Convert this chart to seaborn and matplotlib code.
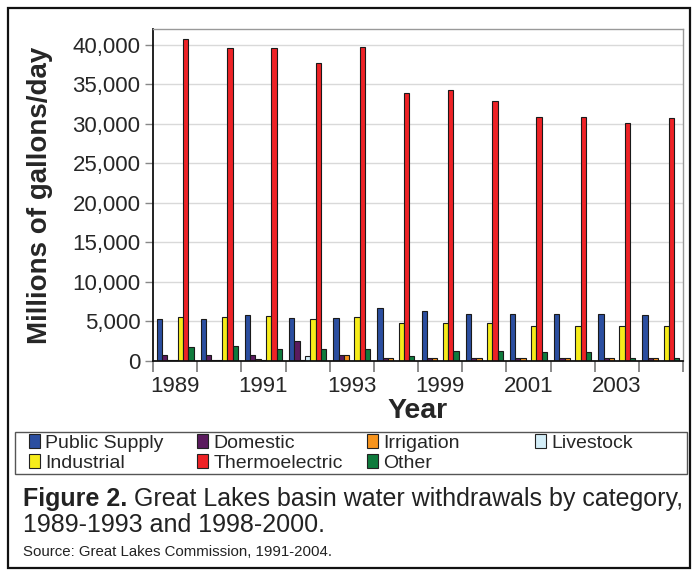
import numpy as np
import pandas as pd
import matplotlib
matplotlib.use("Agg")
import matplotlib.pyplot as plt
from matplotlib.patches import Patch, Rectangle
from matplotlib.ticker import FuncFormatter
import seaborn as sns

years = ["1989", "1990", "1991", "1992", "1993", "1998",
         "1999", "2000", "2001", "2002", "2003", "2004"]
shown_labels = ["1989", "1991", "1993", "1999", "2001", "2003"]
categories = ["Public Supply", "Domestic", "Irrigation", "Livestock",
              "Industrial", "Thermoelectric", "Other"]

public_supply = [5300, 5300, 5820, 5400, 5400, 6670, 6330, 5990, 5990, 5910, 5990, 5820]
domestic = [720, 700, 700, 2530, 720, 420, 420, 420, 420, 420, 420, 420]
irrigation = [100, 150, 250, 100, 720, 340, 340, 340, 340, 420, 420, 420]
livestock = [80, 80, 80, 630, 60, 50, 50, 50, 50, 50, 50, 50]
industrial = [5530, 5610, 5700, 5320, 5530, 4850, 4850, 4770, 4390, 4390, 4390, 4390]
thermoelectric = [40730, 39590, 39590, 37690, 39710, 33890, 34270, 32950, 30830, 30830, 30170, 30730]
other = [1730, 1900, 1560, 1560, 1560, 590, 1310, 1220, 1140, 1140, 420, 420]

colors = ["#2b4ea0", "#5b1b5e", "#f7941d", "#d4eef8", "#f6ec1a", "#ee2226", "#0f7b3d"]

series = [public_supply, domestic, irrigation, livestock, industrial, thermoelectric, other]
rows = []
for cat, vals in zip(categories, series):
    for y, v in zip(years, vals):
        rows.append({"Year": y, "Category": cat, "Value": v})
df = pd.DataFrame(rows)

sns.set_style("white")
plt.rcParams["font.family"] = ["Liberation Sans", "DejaVu Sans"]

W, H = 697, 571
fig = plt.figure(figsize=(W / 100, H / 100), dpi=100)
ax = fig.add_axes([153 / W, 1 - 361 / H, (683 - 153) / W, (361 - 29) / H])

palette = dict(zip(categories, colors))
sns.barplot(data=df, x="Year", y="Value", hue="Category", order=years,
            hue_order=categories, palette=palette, width=0.84,
            edgecolor="#1a1a1a", linewidth=0.8, saturation=1, legend=False, ax=ax)

ax.set_ylim(0, 42000)
ax.set_xlim(-0.5, len(years) - 0.5)
ax.set_yticks(np.arange(0, 40001, 5000))
ax.yaxis.set_major_formatter(FuncFormatter(lambda v, p: f"{v:,.0f}"))
ax.tick_params(axis="y", labelsize=16, length=6, color="#888888", width=1, left=True, pad=3)
ax.set_xticks([years.index(l) for l in shown_labels])
ax.set_xticklabels(shown_labels)
ax.tick_params(axis="x", which="major", length=0, labelsize=16, pad=11)
ax.set_xticks(np.arange(-0.5, len(years), 1), minor=True)
ax.tick_params(axis="x", which="minor", length=8, color="#777777", width=1.2, bottom=True)
ax.yaxis.grid(True, color="#d9d9d9", linewidth=1)
ax.set_axisbelow(True)

for s in ["left", "bottom"]:
    ax.spines[s].set_color("#111111")
    ax.spines[s].set_linewidth(1.3)
for s in ["top", "right"]:
    ax.spines[s].set_color("#999999")
    ax.spines[s].set_linewidth(1.0)

ax.set_ylabel("Millions of gallons/day", fontsize=20, fontweight="bold")
ax.yaxis.set_label_coords(-0.188, 0.5)
ax.set_xlabel("Year", fontsize=20.5, fontweight="bold")
ax.xaxis.set_label_coords(0.5, -0.11)

# figure border
fig.add_artist(Rectangle((8 / W, 1 - 568 / H), (690 - 8) / W, (568 - 8) / H,
                         transform=fig.transFigure, fill=False, edgecolor="#111111", linewidth=1.6))
# legend box
fig.add_artist(Rectangle((15 / W, 1 - 474 / H), (687 - 15) / W, (474 - 432) / H,
                         transform=fig.transFigure, fill=False, edgecolor="#555555", linewidth=1.0))

handles = {c: Patch(facecolor=col, edgecolor="#222222", linewidth=0.8) for c, col in zip(categories, colors)}
columns = [["Public Supply", "Industrial"], ["Domestic", "Thermoelectric"],
           ["Irrigation", "Other"], ["Livestock"]]
col_x = [27, 195, 365, 533]
for cx, col in zip(col_x, columns):
    fig.legend(handles=[handles[c] for c in col], labels=col, loc="upper left",
               bbox_to_anchor=(cx / W, 1 - 432 / H), frameon=False, fontsize=14,
               handlelength=0.55, handleheight=0.75, handletextpad=0.3,
               labelspacing=0.12, borderpad=0.1, borderaxespad=0)

t1 = fig.text(23 / W, 1 - 506 / H, "Figure 2.", fontsize=18, fontweight="bold",
              va="baseline", ha="left", color="#222222")
fig.canvas.draw()
bb = t1.get_window_extent()
fig.text(bb.x1 / (W), 1 - 506 / H, " Great Lakes basin water withdrawals by category,",
         fontsize=18, va="baseline", ha="left", color="#222222")
fig.text(23 / W, 1 - 532 / H, "1989-1993 and 1998-2000.", fontsize=18,
         va="baseline", ha="left", color="#222222")
fig.text(23 / W, 1 - 556 / H, "Source: Great Lakes Commission, 1991-2004.", fontsize=10.8,
         va="baseline", ha="left", color="#222222")

fig.savefig("out.png", dpi=100)
